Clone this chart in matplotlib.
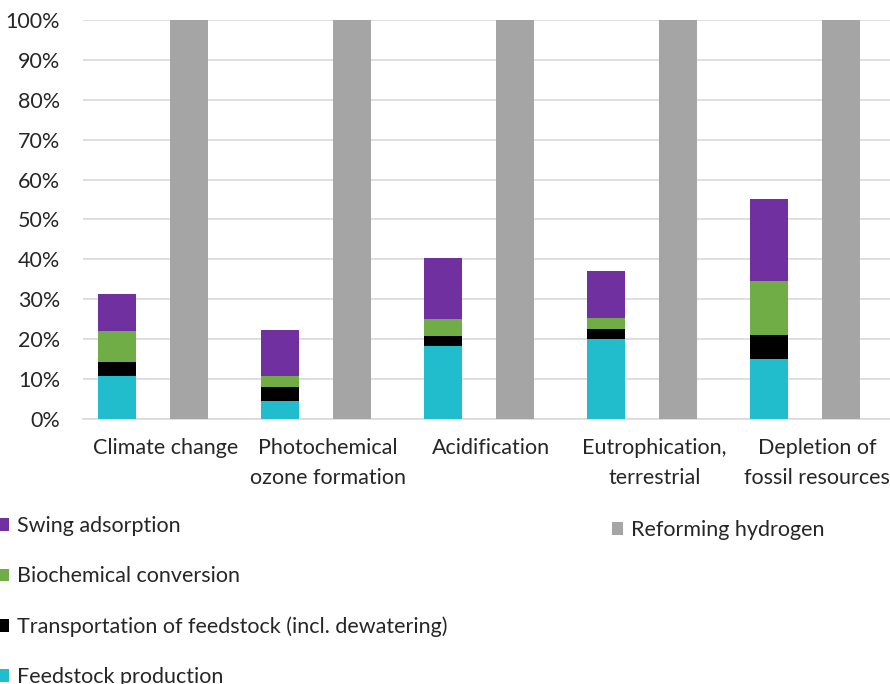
import numpy as np
import matplotlib
matplotlib.use("Agg")
import matplotlib.pyplot as plt
import matplotlib.transforms as mtransforms
from matplotlib.ticker import PercentFormatter

plt.rcParams['font.family'] = ['Lato', 'DejaVu Sans']

# Data (share of reforming hydrogen impact, %)
categories = ["Climate change", "Photochemical\nozone formation", "Acidification",
              "Eutrophication,\nterrestrial", "Depletion of\nfossil resources"]
feedstock = [10.8, 4.6, 18.3, 20.1, 15.0]
transport = [3.6, 3.3, 2.4, 2.4, 6.1]
biochem = [7.6, 2.9, 4.3, 2.8, 13.5]
swing = [9.3, 11.5, 15.4, 11.9, 20.5]
reforming = [100, 100, 100, 100, 100]

colors = {"feed": "#22BDCC", "trans": "#000000", "bio": "#70AD47",
          "swing": "#7030A0", "ref": "#A5A5A5"}
fs = 15.5

fig = plt.figure(figsize=(8.9, 6.84), dpi=100)
ax = fig.add_axes([0.0933, 0.3874, 0.9067, 0.5834])

x = np.arange(len(categories))
w = 0.233
off = 0.22

b1 = ax.bar(x - off, feedstock, w, color=colors["feed"], label="Feedstock production", zorder=3)
bottom = np.array(feedstock)
b2 = ax.bar(x - off, transport, w, bottom=bottom, color=colors["trans"],
            label="Transportation of feedstock (incl. dewatering)", zorder=3)
bottom = bottom + np.array(transport)
b3 = ax.bar(x - off, biochem, w, bottom=bottom, color=colors["bio"],
            label="Biochemical conversion", zorder=3)
bottom = bottom + np.array(biochem)
b4 = ax.bar(x - off, swing, w, bottom=bottom, color=colors["swing"],
            label="Swing adsorption", zorder=3)
b5 = ax.bar(x + off, reforming, w, color=colors["ref"], label="Reforming hydrogen", zorder=3)

ax.set_ylim(0, 100)
ax.set_xlim(-0.43, 4.52)
ax.set_yticks(np.arange(0, 101, 10))
ax.yaxis.set_major_formatter(PercentFormatter(decimals=0))
ax.set_xticks(x)
ax.set_xticklabels(categories, linespacing=1.6)
ax.tick_params(axis='both', length=0, labelsize=fs, colors='#262626')
ax.tick_params(axis='x', pad=14)
ax.tick_params(axis='y', pad=16.5)
# category labels sit a little right of the group centre in the original
shift = mtransforms.ScaledTranslation(12 / 100, 0, fig.dpi_scale_trans)
for lbl in ax.get_xticklabels():
    lbl.set_transform(lbl.get_transform() + shift)
ax.grid(True, axis='y', color='#D9D9D9', linewidth=1.2, zorder=0)
for s in ['top', 'right', 'left']:
    ax.spines[s].set_visible(False)
ax.spines['bottom'].set_color('#D9D9D9')
ax.spines['bottom'].set_linewidth(1.2)

leg1 = fig.legend(handles=[b4, b3, b2, b1], loc='upper left', bbox_to_anchor=(-0.012, 0.258),
                  frameon=False, fontsize=fs, handlelength=0.5, handleheight=0.5,
                  handletextpad=0.4, labelspacing=1.4, borderaxespad=0)
leg2 = fig.legend(handles=[b5], loc='upper left', bbox_to_anchor=(0.678, 0.252),
                  frameon=False, fontsize=fs, handlelength=0.5, handleheight=0.5,
                  handletextpad=0.4, borderaxespad=0)
for leg in (leg1, leg2):
    for t in leg.get_texts():
        t.set_color('#262626')

fig.savefig("out.png", dpi=100)
